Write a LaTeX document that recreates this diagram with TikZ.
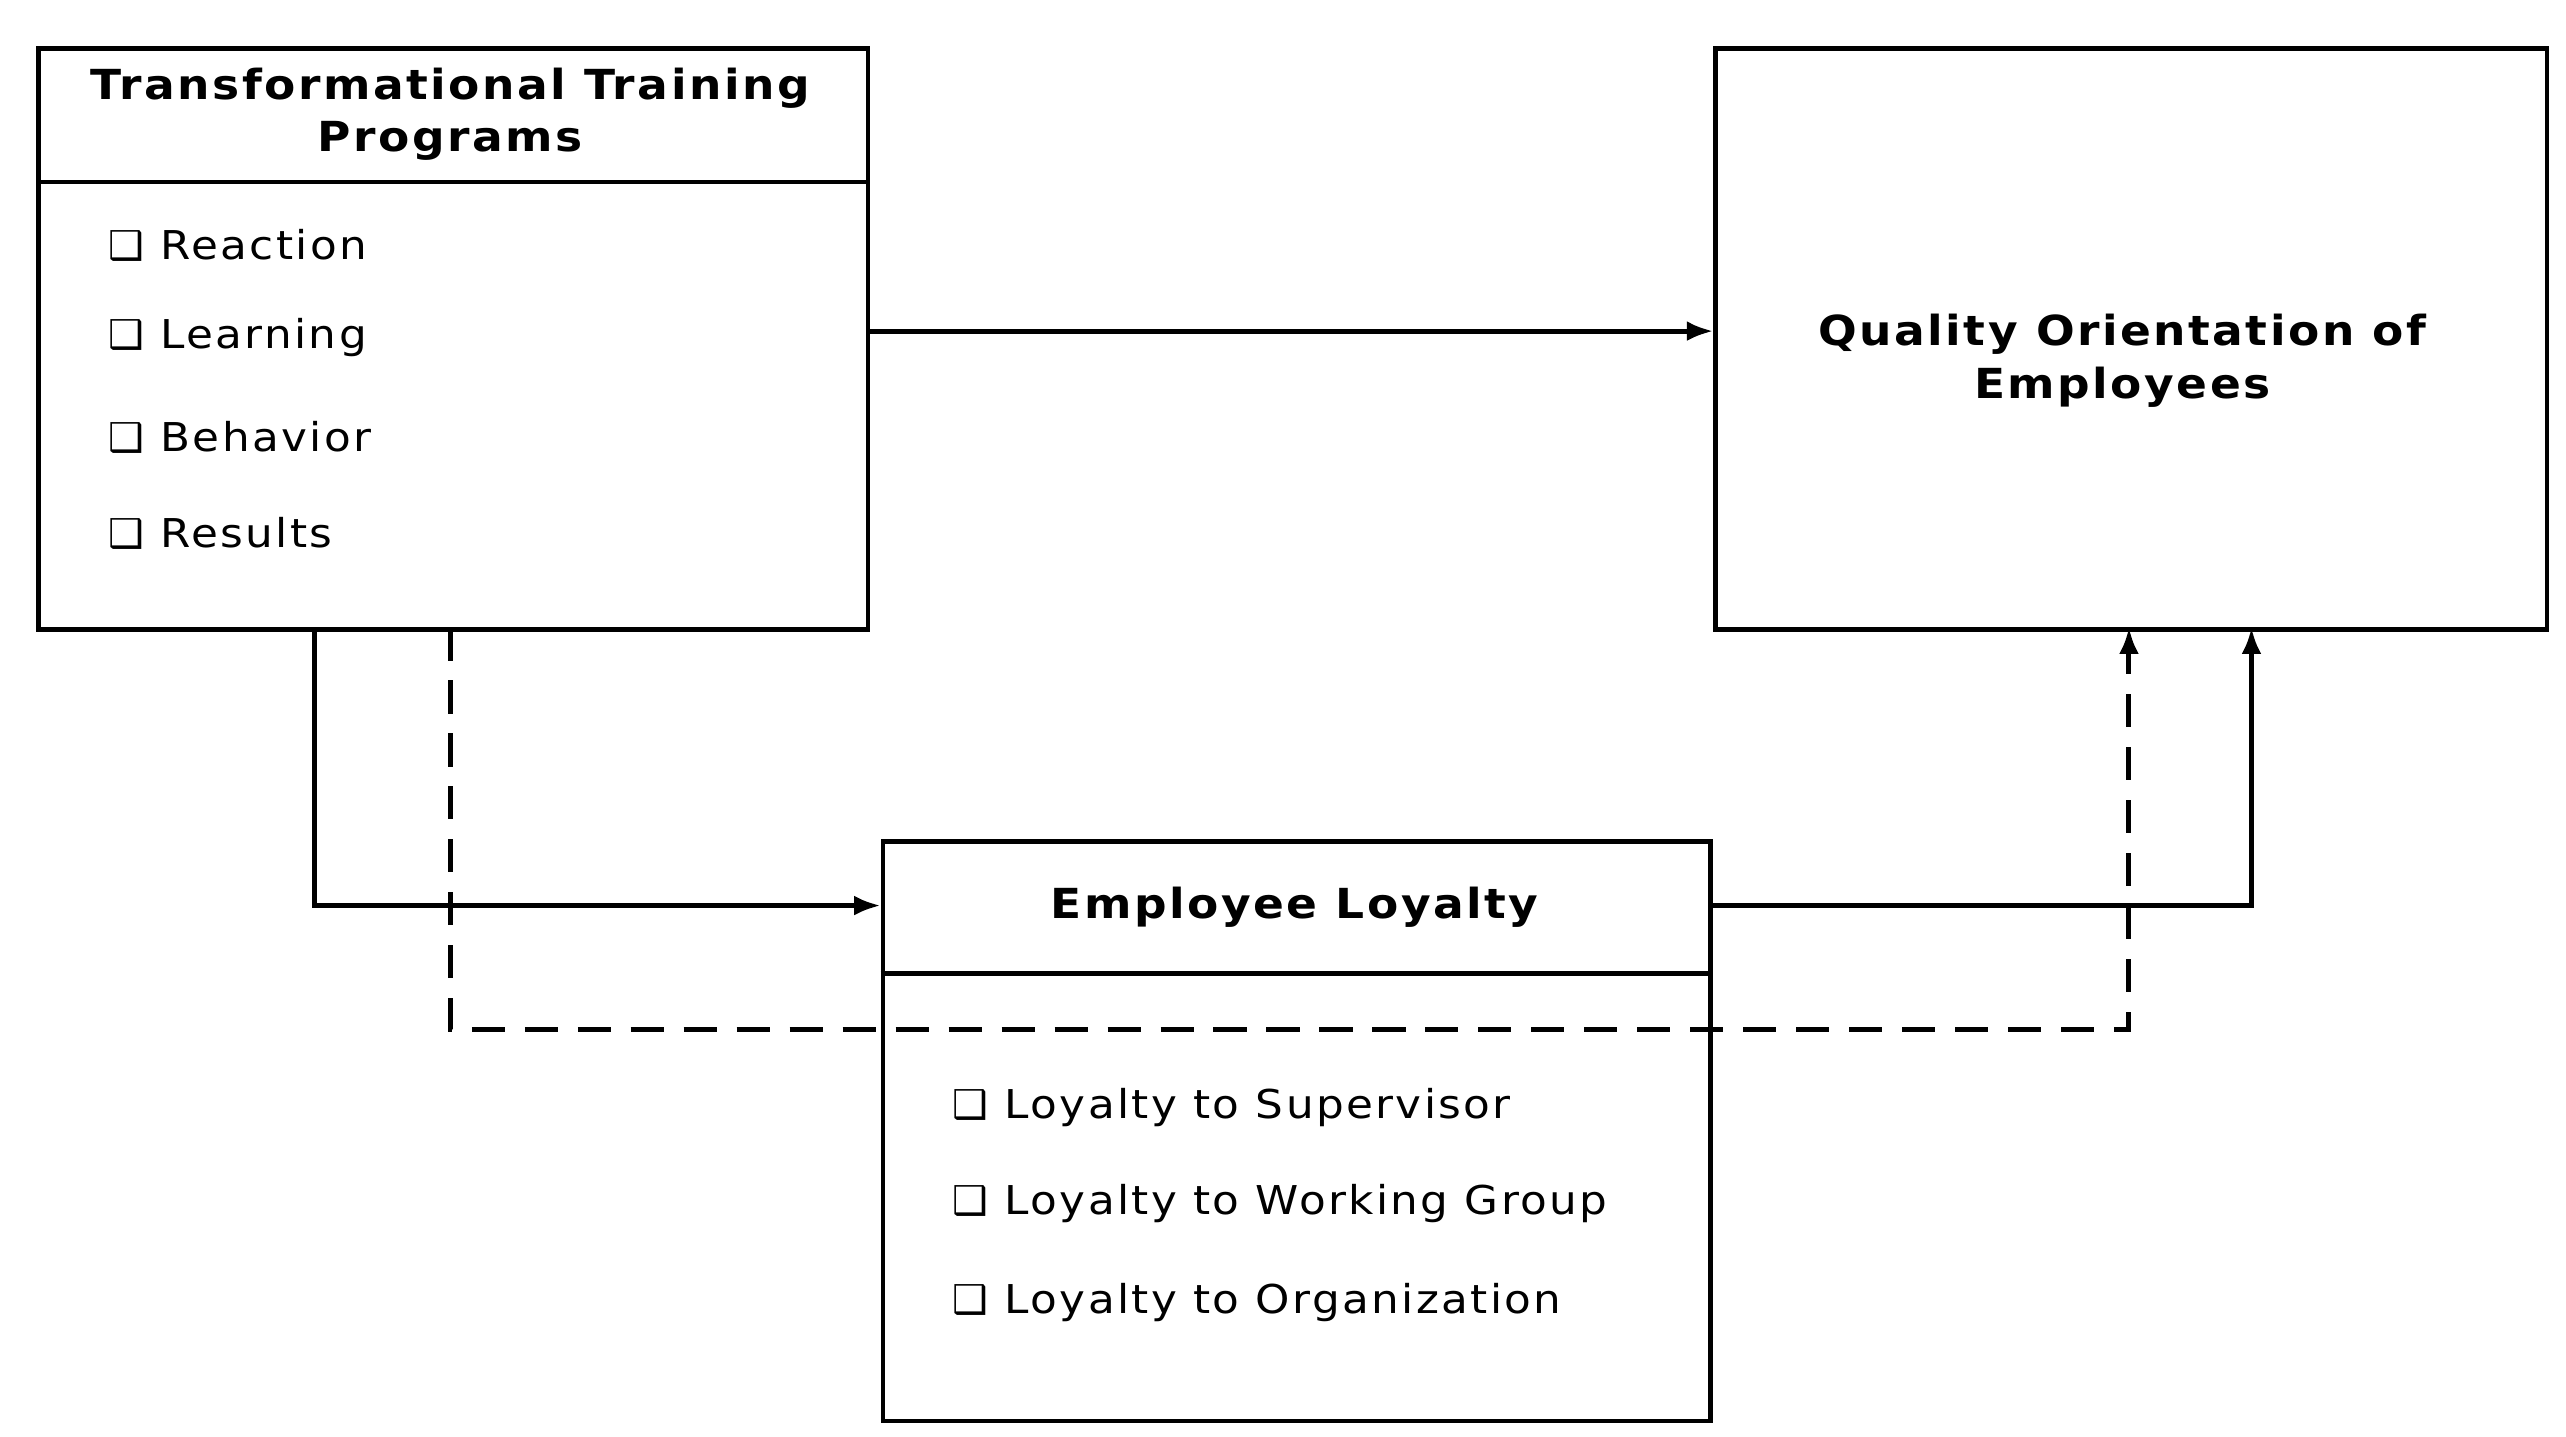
\documentclass[tikz,border=0pt]{standalone}
\usepackage{fontspec}
\setmainfont{DejaVu Sans}
\newfontfamily\wide[FakeStretch=1.1,LetterSpace=6]{DejaVu Sans}
\newfontfamily\symf{DejaVu Sans}
\usetikzlibrary{arrows.meta}
\begin{document}
\begin{tikzpicture}[x=1pt,y=-1pt,
  box/.style={draw,line width=2.6pt},
  conn/.style={line width=3pt,-{Latex[length=16pt,width=12pt]}},
  head/.style={font=\wide\fontsize{25}{32}\selectfont\bfseries,align=center},
  item/.style={font=\wide\fontsize{24}{28}\selectfont,anchor=west}]
\useasboundingbox (0,0) rectangle (1550,868);
\node[box,minimum width=501pt,minimum height=351pt,anchor=north west] (ttp) at (22,28) {};
\draw[line width=2.6pt] (22,110) -- (523,110);
\node[head] (ttpt) at (272,69) {Transformational Training\\Programs};
\node[box,minimum width=502pt,minimum height=351pt,anchor=north west] (qoe) at (1035,28) {};
\node[head] (qoet) at (1282,218) {Quality Orientation of\\Employees};
\node[box,minimum width=500pt,minimum height=350pt,anchor=north west] (el) at (532,507) {};
\draw[line width=2.6pt] (532,588) -- (1032,588);
\node[head] (elt) at (782,548) {Employee Loyalty};
\foreach \t/\y [count=\i] in {Reaction/148,Learning/204,Behavior/264,Results/322}
  \node[item] (a\i) at (62,\y) {{\symf ❑} \t};
\foreach \t/\y [count=\i] in {Loyalty to Supervisor/669,Loyalty to Working Group/727,Loyalty to Organization/787}
  \node[item] (b\i) at (572,\y) {{\symf ❑} \t};
\coordinate (p1) at (190,379);
\coordinate (p2) at (272,379);
\coordinate (q1) at (1286,379);
\coordinate (q2) at (1360,379);
\draw[conn] (ttp.east |- 0,200) -- (qoe.west |- 0,200);
\draw[conn] (p1) -- (190,547) -- (el.west |- 0,547);
\draw[conn] (el.east |- 0,547) -- (1360,547) -- (q2);
\draw[conn,dashed,dash pattern=on 20pt off 12pt] (p2) -- (272,622) -- (1286,622) -- (q1);
\end{tikzpicture}
\end{document}
